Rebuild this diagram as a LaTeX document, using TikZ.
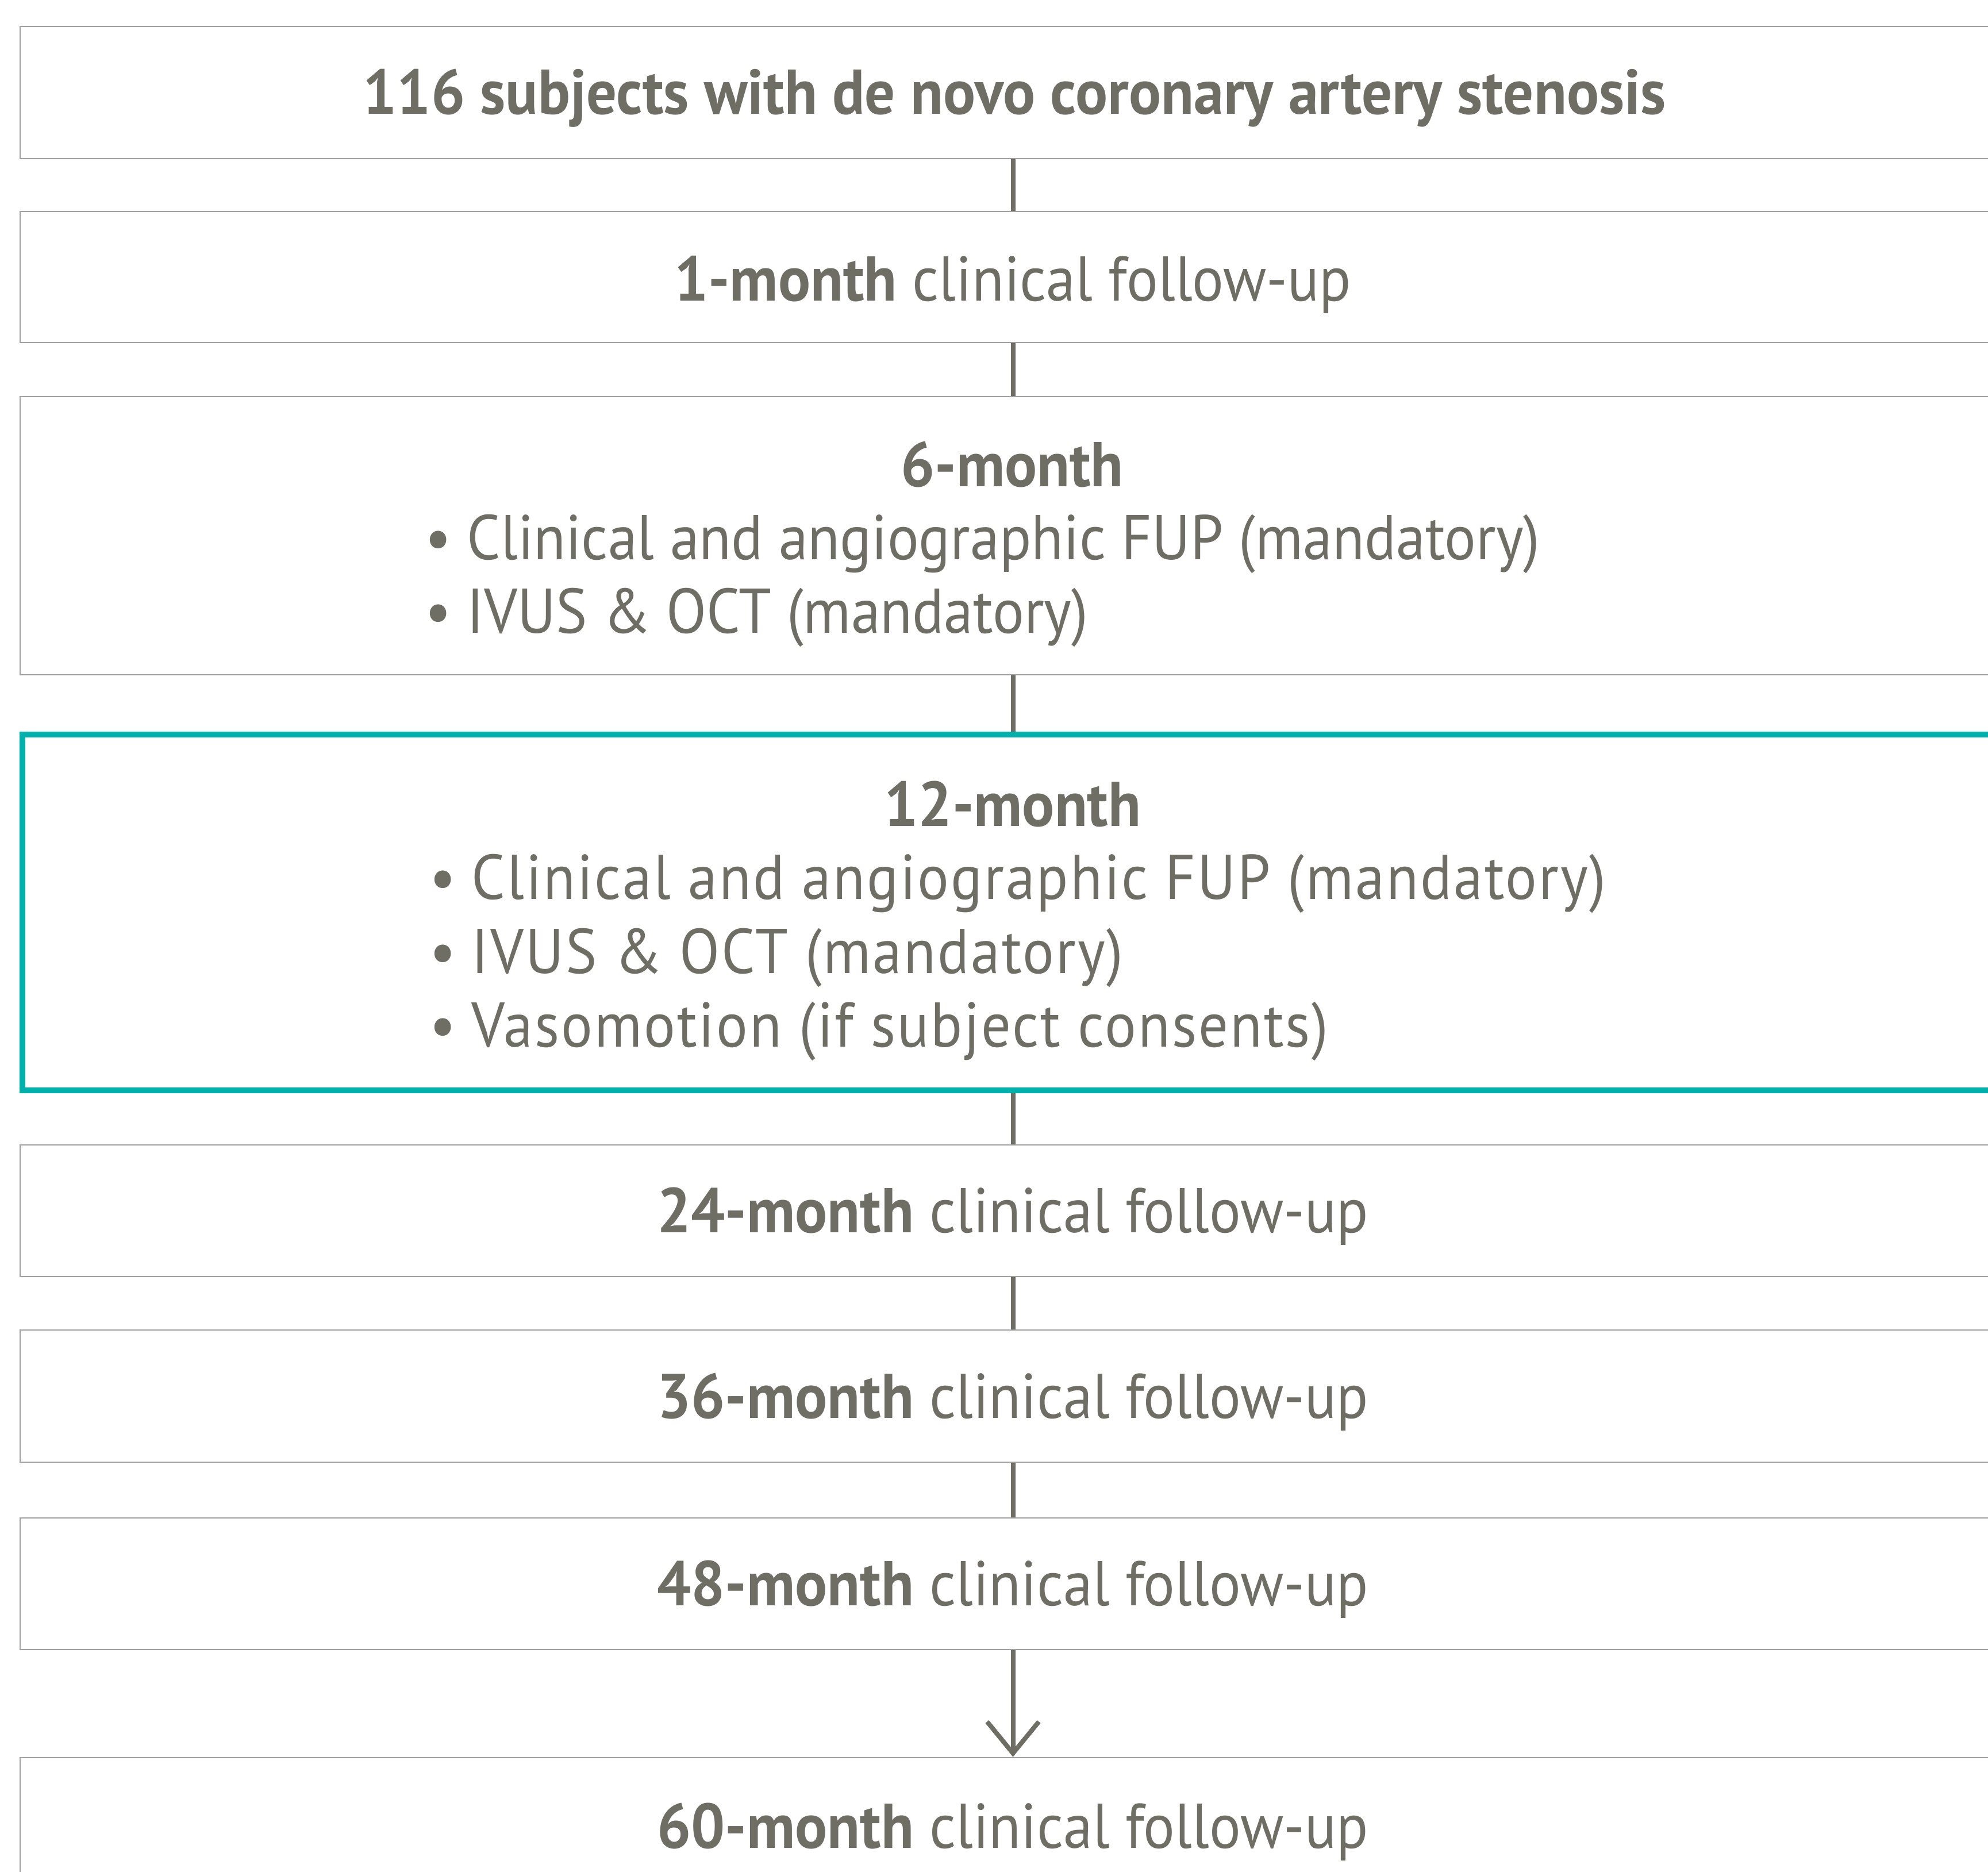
\documentclass[tikz,border=0pt]{standalone}
\usepackage{fontspec}
\setmainfont{PT Sans}[FakeStretch=0.93, BoldFeatures={FakeStretch=0.95}]
\usepackage{tikz}
\usetikzlibrary{arrows.meta,positioning}
\usepackage{xcolor}
\definecolor{txtgrey}{RGB}{110,110,100}
\definecolor{boxgrey}{RGB}{160,160,160}
\definecolor{tealline}{RGB}{0,176,170}
\tikzset{
  box/.style={draw=boxgrey, line width=0.025cm, minimum width=34.55cm, inner sep=0pt},
  hibox/.style={box, draw=tealline, line width=0.1cm, minimum width=34.51cm},
  lbl/.style={anchor=base, text=txtgrey, inner sep=0pt, font=\fontsize{31.3pt}{36.7pt}\selectfont},
  item/.style={lbl, anchor=base west},
  link/.style={draw=txtgrey, line width=0.08cm}
}
\newcommand{\itm}{\textbullet\hspace{0.27cm}}
\begin{document}
\begin{tikzpicture}
\useasboundingbox (0,0) rectangle (34.59,-32.57);
\clip (0,0) rectangle (34.59,-32.57);
\fill[white] (0,0) rectangle (34.59,-32.57);
% boxes
\node[box, minimum height=2.30cm] (b1) at (17.625,-1.61) {};
\node[box, minimum height=2.28cm] (b2) at (17.625,-4.82) {};
\node[box, minimum height=4.84cm] (b3) at (17.625,-9.32) {};
\node[hibox, minimum height=6.19cm] (b4) at (17.645,-15.875) {};
\node[box, minimum height=2.29cm] (b5) at (17.625,-21.065) {};
\node[box, minimum height=2.30cm] (b6) at (17.625,-24.29) {};
\node[box, minimum height=2.29cm] (b7) at (17.625,-27.555) {};
\node[box, minimum height=4.30cm] (b8) at (17.625,-32.73) {};
% texts
\node[lbl] (t1) at (17.65,-1.99) {\textbf{116 subjects with de novo coronary artery stenosis}};
\node[lbl] (t2) at (17.62,-5.24) {\textbf{1-month} clinical follow-up};
\node[lbl] (t3) at (17.61,-8.47) {\textbf{6-month}};
\node[item] (t3a) at (7.39,-9.73) {\itm Clinical and angiographic FUP (mandatory)};
\node[item] (t3b) at (7.39,-11.01) {\itm IVUS \& OCT (mandatory)};
\node[lbl] (t4) at (17.62,-14.37) {\textbf{12-month}};
\node[item] (t4a) at (7.47,-15.64) {\addfontfeature{LetterSpace=2.7}\itm Clinical and angiographic FUP (mandatory)};
\node[item] (t4b) at (7.47,-16.93) {\addfontfeature{LetterSpace=2.7}\itm IVUS \& OCT (mandatory)};
\node[item] (t4c) at (7.47,-18.21) {\addfontfeature{LetterSpace=2.7}\itm Vasomotion (if subject consents)};
\node[lbl] (t5) at (17.62,-21.44) {\textbf{24-month} clinical follow-up};
\node[lbl] (t6) at (17.62,-24.67) {\textbf{36-month} clinical follow-up};
\node[lbl] (t7) at (17.62,-27.93) {\textbf{48-month} clinical follow-up};
\node[lbl] (t8) at (17.62,-32.15) {\textbf{60-month} clinical follow-up};
% connectors
\draw[link] (b1.south) -- (b2.north);
\draw[link] (b2.south) -- (b3.north);
\draw[link] (b3.south) -- (b3.south |- b4.north);
\draw[link] (b4.south -| b5.north) -- (b5.north);
\draw[link] (b5.south) -- (b6.north);
\draw[link] (b6.south) -- (b7.north);
\draw[link, -{Straight Barb[length=0.55cm,width=0.9cm]}] (b7.south) -- (b8.north);
\end{tikzpicture}
\end{document}
